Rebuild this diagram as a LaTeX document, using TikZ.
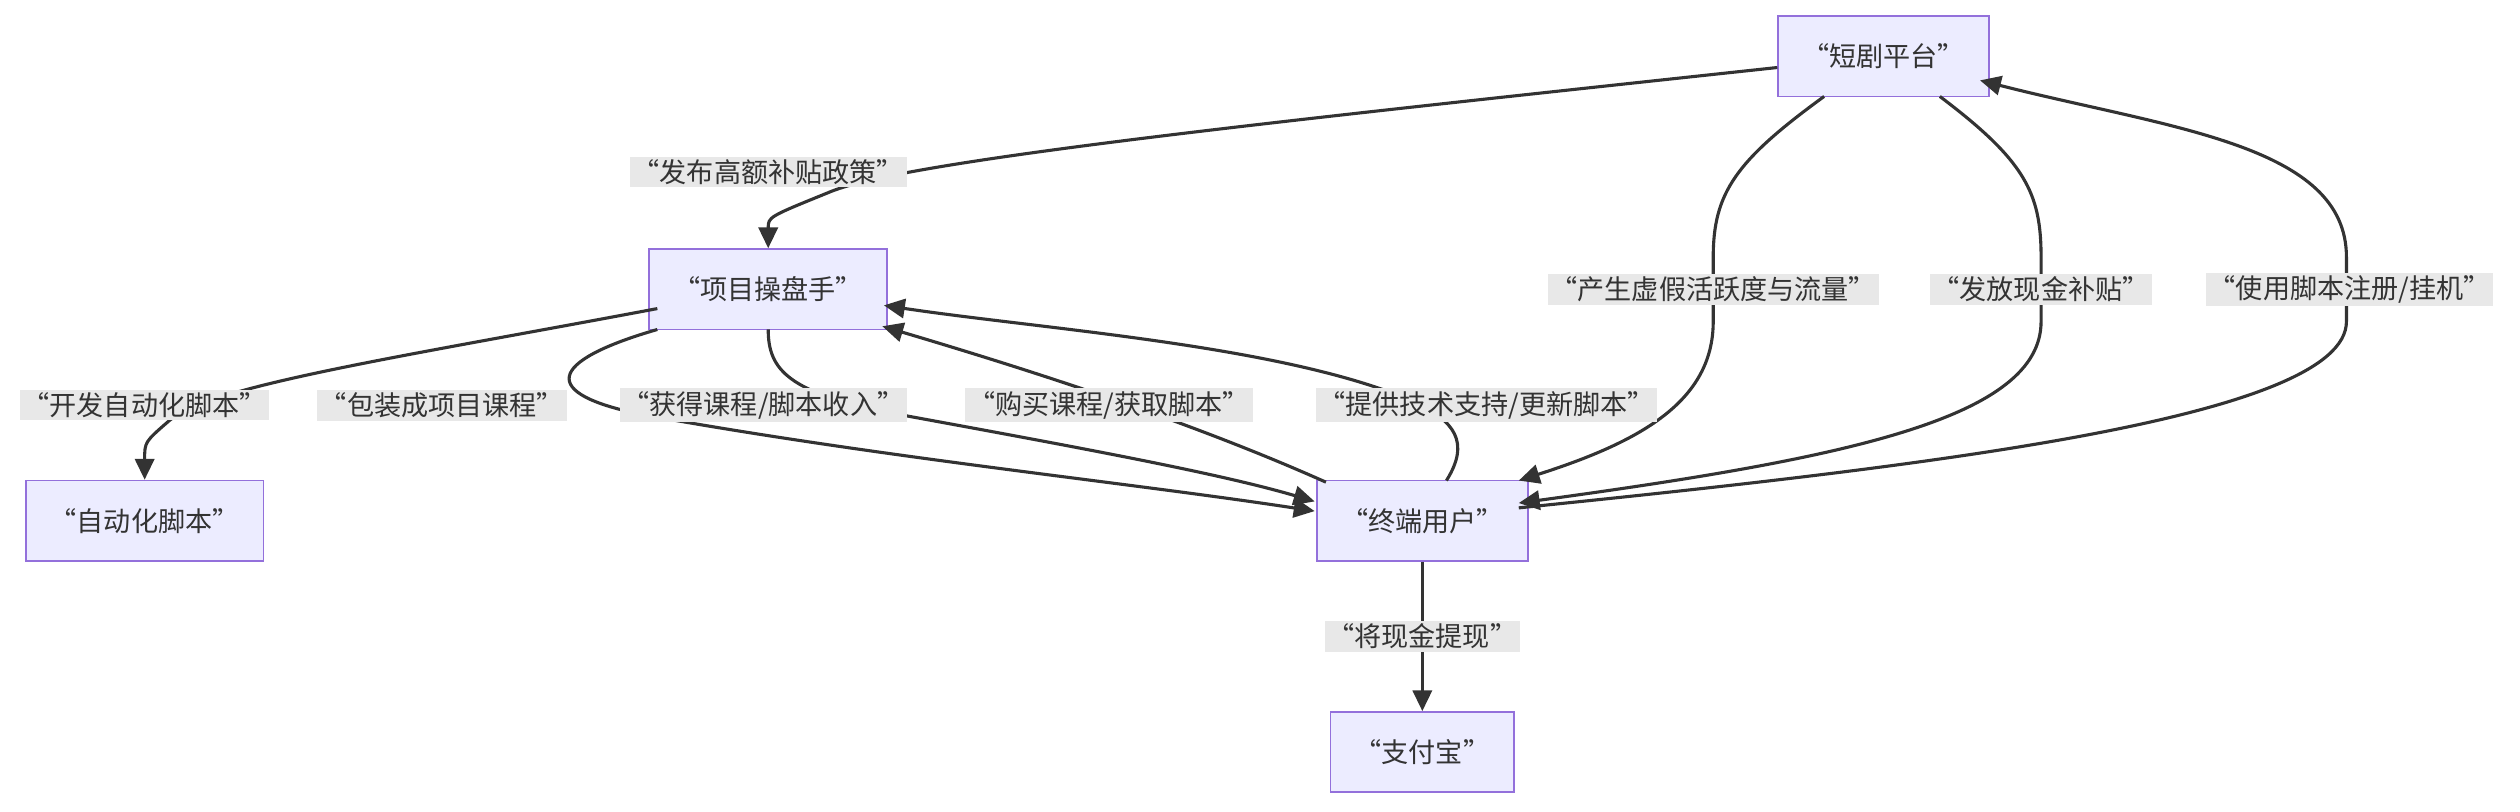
\documentclass[tikz,border=0pt]{standalone}
\usepackage{fontspec}
\setmainfont{Noto Sans CJK SC}
\usetikzlibrary{arrows.meta}
\definecolor{nfill}{HTML}{ECECFF}
\definecolor{ndraw}{HTML}{9370DB}
\definecolor{lbg}{HTML}{E8E8E8}
\definecolor{ln}{HTML}{333333}
\begin{document}
\begin{tikzpicture}[x=0.02cm,y=-0.02cm,
  box/.style={draw=ndraw,fill=nfill,line width=0.6pt,minimum height=1cm,inner xsep=0.3cm,font=\fontsize{9.6}{12}\selectfont,text=ln},
  lab/.style={fill=lbg,inner sep=1pt,font=\fontsize{9.6}{12}\selectfont,text=ln},
  ed/.style={draw=ln,line width=1.1pt,-{Triangle[length=0.26cm,width=0.24cm]}},
  pl/.style={draw=ln,line width=1.1pt}]
\useasboundingbox (0,0) rectangle (1568,505);
\node[box,minimum width=2.36cm] (dj) at (1172,35) {“短剧平台”};
\node[box,minimum width=2.78cm] (xm) at (478,180) {“项目操盘手”};
\node[box,minimum width=2.78cm] (zd) at (90,324) {“自动化脚本”};
\node[box,minimum width=2.38cm] (zy) at (885,324) {“终端用户”};
\node[box,minimum width=1.98cm] (zf) at (885,468) {“支付宝”};
% edges
\draw[ed] (dj.west|-0,42) .. controls (800,75) and (560,100) .. (515,120) .. controls (478,135) .. (xm.north);
\draw[ed] (409,192) .. controls (250,222) and (130,240) .. (105,262) .. controls (90,275) .. (zd.north);
\draw[ed] (409,205) .. controls (340,225) and (335,245) .. (400,258) .. controls (550,285) and (700,300) .. (818,318);
\draw[ed] (478,205) .. controls (478,230) and (490,245) .. (560,258) .. controls (680,280) and (760,295) .. (818,312);
\draw[ed] (825,300) .. controls (740,262) and (640,230) .. (549,203);
\draw[ed] (900,299) .. controls (915,275) and (905,262) .. (880,250) .. controls (800,215) and (650,205) .. (550,190);
\draw[ed] (1135,60) .. controls (1080,100) and (1066,120) .. (1066,160) -- (1066,200) .. controls (1066,250) and (1020,275) .. (945,299);
\draw[ed] (1207,60) .. controls (1260,100) and (1270,120) .. (1270,160) -- (1270,200) .. controls (1270,260) and (1150,285) .. (945,313);
\draw[ed] (945,316) .. controls (1200,290) and (1460,260) .. (1460,200) -- (1460,160) .. controls (1460,90) and (1350,80) .. (1232,50);
\draw[ed] (zy.south) -- (zf.north);
% labels
\node[lab] at (478,107) {“发布高额补贴政策”};
\node[lab] at (90,252) {“开发自动化脚本”};
\node[lab] at (275,252) {“包装成项目课程”};
\node[lab] at (475,252) {“获得课程/脚本收入”};
\node[lab] at (690,252) {“购买课程/获取脚本”};
\node[lab] at (925,252) {“提供技术支持/更新脚本”};
\node[lab] at (1066,180) {“产生虚假活跃度与流量”};
\node[lab] at (1270,180) {“发放现金补贴”};
\node[lab] at (1462,180) {“使用脚本注册/挂机”};
\node[lab] at (885,396) {“将现金提现”};
\end{tikzpicture}
\end{document}
